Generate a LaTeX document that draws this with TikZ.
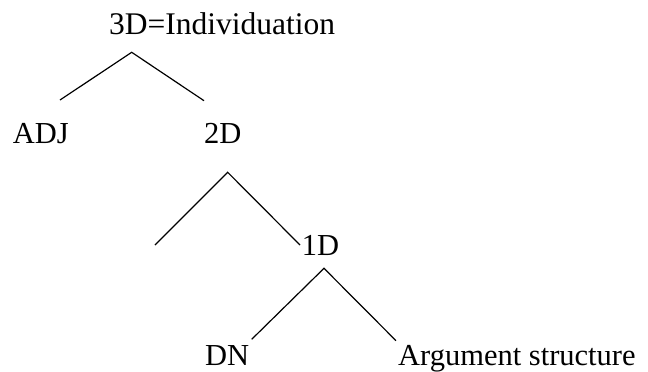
\documentclass[tikz,border=0pt]{standalone}
\usepackage{fontspec}
\setmainfont{Liberation Serif}
\begin{document}
\begin{tikzpicture}[x=1pt,y=-1pt,
  lbl/.style={anchor=base west,inner sep=0pt,font=\fontsize{30.5}{36}\selectfont},
  branch/.style={line width=1.2pt,line join=miter}]
\useasboundingbox (0,0) rectangle (648,372);
\node[lbl,font=\fontsize{31.5}{36}\selectfont] (top) at (109,34.5) {3D=Individuation};
\node[lbl] (adj) at (12.7,143.3) {ADJ};
\node[lbl] (twoD) at (204,143.3) {2D};
\node[lbl] (oneD) at (301.7,255) {1D};
\node[lbl] (dn) at (205,365) {DN};
\node[lbl] (arg) at (398,365) {Argument structure};
\coordinate (a1) at (131.7,52.3);
\coordinate (l1) at (60,100);
\coordinate (r1) at (204,100.7);
\coordinate (a2) at (227.7,172.3);
\coordinate (l2) at (155,245);
\coordinate (r2) at (300,245);
\coordinate (a3) at (324,268.3);
\coordinate (l3) at (251.7,339.3);
\coordinate (r3) at (396,340.7);
\draw[branch] (l1) -- (a1) -- (r1);
\draw[branch] (l2) -- (a2) -- (r2);
\draw[branch] (l3) -- (a3) -- (r3);
\end{tikzpicture}
\end{document}
